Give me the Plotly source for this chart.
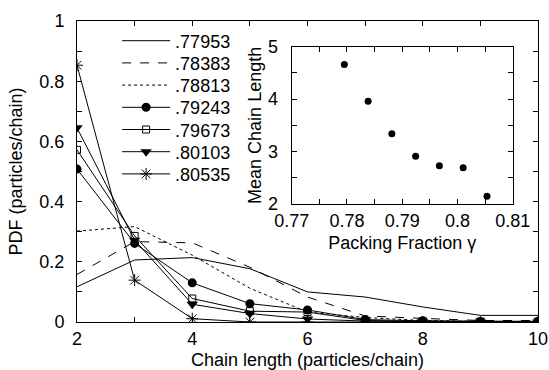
import plotly.graph_objects as go

chain_length = [2, 3, 4, 5, 6, 7, 8, 9, 10]
series_names = [".77953", ".78383", ".78813", ".79243", ".79673", ".80103", ".80535"]
pdf_77953 = [0.117, 0.206, 0.214, 0.177, 0.100, 0.083, 0.050, 0.022, 0.022]
pdf_78383 = [0.158, 0.267, 0.263, 0.182, 0.083, 0.020, 0.012, 0.005, 0.005]
pdf_78813 = [0.302, 0.317, 0.222, 0.112, 0.033, 0.015, 0.005, 0.002, 0.002]
pdf_79243 = [0.508, 0.261, 0.130, 0.061, 0.040, 0.008, 0.004, 0.002, 0.002]
pdf_79673 = [0.572, 0.286, 0.078, 0.036, 0.033, 0.005, 0.002, 0.001, 0.001]
pdf_80103 = [0.645, 0.272, 0.059, 0.028, 0.010, 0.003, 0.001, 0.000, 0.000]
pdf_80535 = [0.853, 0.139, 0.011, 0.000, 0.000, 0.000, 0.000, 0.000, 0.000]

packing_fraction = [0.77953, 0.78383, 0.78813, 0.79243, 0.79673, 0.80103, 0.80535]
mean_chain_length = [4.66, 3.96, 3.34, 2.91, 2.73, 2.69, 2.15]

x_tickvals = [2, 3, 4, 5, 6, 7, 8, 9, 10]
x_ticktext = ["2", "", "4", "", "6", "", "8", "", "10"]
y_tickvals = [0, 0.1, 0.2, 0.3, 0.4, 0.5, 0.6, 0.7, 0.8, 0.9, 1.0]
y_ticktext = ["0", "", "0.2", "", "0.4", "", "0.6", "", "0.8", "", "1"]
ix_tickvals = [0.77, 0.775, 0.78, 0.785, 0.79, 0.795, 0.80, 0.805, 0.81]
ix_ticktext = ["0.77", "", "0.78", "", "0.79", "", "0.8", "", "0.81"]
iy_tickvals = [2, 2.5, 3, 3.5, 4, 4.5, 5]
iy_ticktext = ["2", "", "3", "", "4", "", "5"]

FONT = "Liberation Sans, Arial, sans-serif"
FS = 18
series_values = [pdf_77953, pdf_78383, pdf_78813, pdf_79243, pdf_79673, pdf_80103, pdf_80535]
styles = [
    dict(mode="lines", line=dict(color="black", width=1, dash="solid")),
    dict(mode="lines", line=dict(color="black", width=1, dash="dash")),
    dict(mode="lines", line=dict(color="black", width=1, dash="dot")),
    dict(mode="lines+markers", line=dict(color="black", width=1),
         marker=dict(symbol="circle", size=9, color="black")),
    dict(mode="lines+markers", line=dict(color="black", width=1),
         marker=dict(symbol="square-open", size=7, color="black", line=dict(width=1, color="black"))),
    dict(mode="lines+markers", line=dict(color="black", width=1),
         marker=dict(symbol="triangle-down", size=10, color="black")),
    dict(mode="lines+markers", line=dict(color="black", width=1),
         marker=dict(symbol="asterisk-open", size=10, color="black", line=dict(width=1, color="black"))),
]

legend_ids = ["legend", "legend2", "legend3", "legend4", "legend5", "legend6", "legend7"]

fig = go.Figure()
for name, vals, st, lg in zip(series_names, series_values, styles, legend_ids):
    fig.add_trace(go.Scatter(x=chain_length, y=vals, name=name, xaxis="x", yaxis="y",
                             legend=lg, **st))

fig.add_trace(go.Scatter(x=packing_fraction, y=mean_chain_length, mode="markers",
                         marker=dict(symbol="circle", size=7, color="black"),
                         xaxis="x2", yaxis="y2", showlegend=False))

axis_common = dict(showline=True, linecolor="black", linewidth=1, mirror="ticks",
                   ticks="inside", ticklen=5, tickcolor="black", showgrid=False,
                   zeroline=False, automargin=False,
                   tickfont=dict(size=FS, color="black", family=FONT))

layout_legends = {}
for i, lg in enumerate(legend_ids):
    ypx = 41 + 22.2 * i
    layout_legends[lg] = dict(x=0.087, y=(322 - ypx) / 301, xanchor="left", yanchor="middle",
                              bgcolor="rgba(0,0,0,0)", font=dict(size=FS, family=FONT),
                              itemwidth=48)

fig.update_layout(
    width=549, height=370,
    margin=dict(l=77, r=11, t=21, b=48),
    paper_bgcolor="white", plot_bgcolor="white",
    font=dict(family=FONT, size=FS, color="black"),
    xaxis=dict(range=[2, 10], tickmode="array", tickvals=x_tickvals, ticktext=x_ticktext,
               title=dict(text="Chain length (particles/chain)", standoff=10,
                          font=dict(size=FS)), **axis_common),
    yaxis=dict(range=[0, 1], tickmode="array", tickvals=y_tickvals, ticktext=y_ticktext,
               ticklabelstandoff=8,
               title=dict(text="PDF (particles/chain)", standoff=12,
                          font=dict(size=FS)), **axis_common),
    xaxis2=dict(domain=[0.4657, 0.9451], anchor="y2", range=[0.77, 0.81], tickmode="array",
                tickvals=ix_tickvals, ticktext=ix_ticktext,
                title=dict(text="Packing Fraction γ", standoff=6, font=dict(size=FS)), **axis_common),
    yaxis2=dict(domain=[0.392, 0.9146], anchor="x2", range=[2, 5], tickmode="array",
                tickvals=iy_tickvals, ticktext=iy_ticktext, ticklabelstandoff=9,
                title=dict(text="Mean Chain Length", standoff=1, font=dict(size=FS)), **axis_common),
    **layout_legends,
)

# remove the default 8px page margin so the 549x370 figure fills the window exactly
fig.write_html("out.html", config={"displayModeBar": False},
               post_script="document.body.style.margin='0px';document.body.style.overflow='hidden';")
